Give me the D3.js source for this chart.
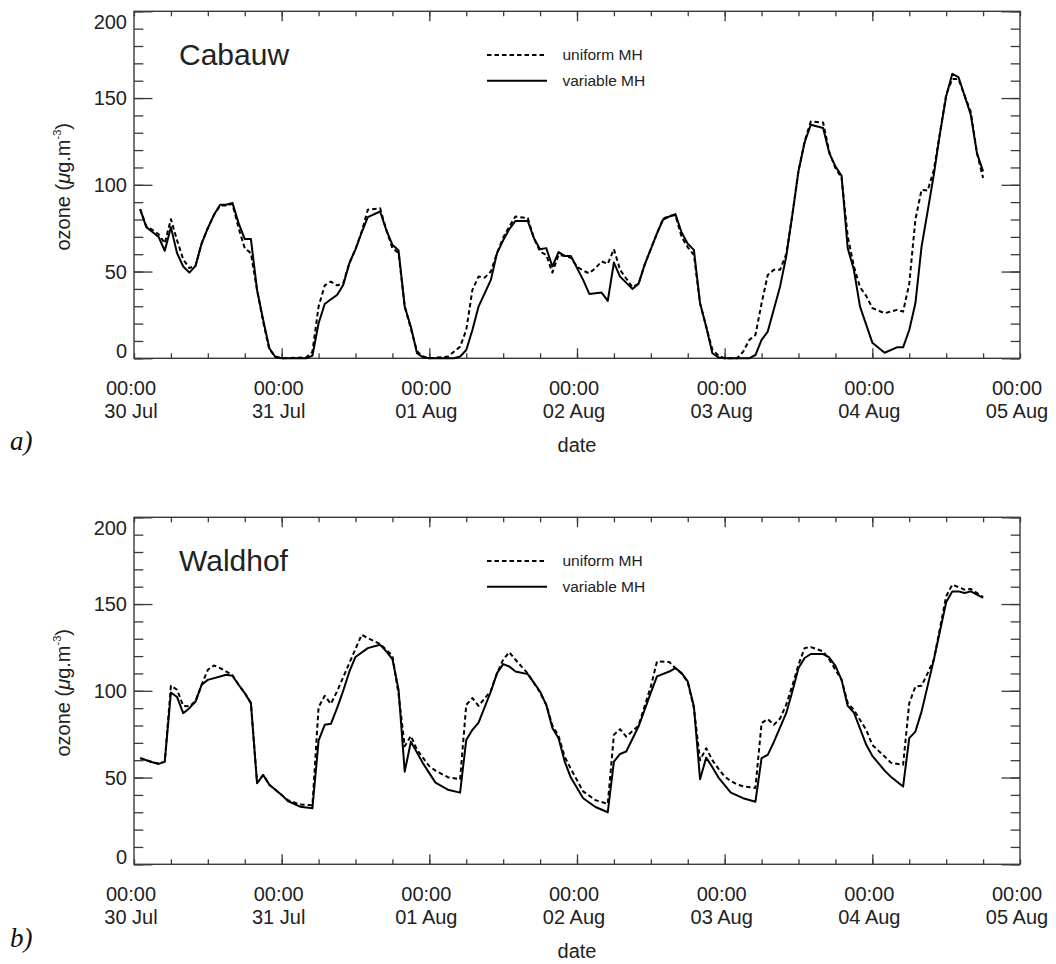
<!DOCTYPE html>
<html><head><meta charset="utf-8">
<script src="https://cdn.jsdelivr.net/npm/d3@7"></script>
<style>body{margin:0;background:#fff}svg{display:block}</style>
</head><body>
<svg id="chart" width="1056" height="964"></svg>
<script>
// ---- data (hours since 30 Jul 00:00, ozone µg/m3) ----
const dayLabels = ["30 Jul","31 Jul","01 Aug","02 Aug","03 Aug","04 Aug","05 Aug"];
const timeLabel = "00:00";
const yTickValues = [0,50,100,150,200];
const legendLabels = ["uniform MH","variable MH"];
const stationNames = ["Cabauw","Waldhof"];
const panelLetters = ["a)","b)"];

const cabauwVariable = [[1,86],[2,75.6],[3,72.8],[4,70],[5,62],[6,75.6],[7,60.6],[8,52.9],[9,49.4],[10,53.3],[11,66.3],[12,75],[13,82.7],[14,88.5],[15,88.5],[16,89.6],[17,77.9],[18,68.7],[19,68.7],[20,39.4],[21,22.1],[22,5.8],[23,0.6],[24,0],[28,0],[29,1.5],[30,20.2],[31,31.3],[32,34],[33,36.5],[34,42.3],[35,54.8],[36,62.8],[37,72.5],[38,81.4],[40,84.6],[41,74],[42,65.4],[43,62.1],[44,29.8],[45,18.2],[46,2.9],[47,0.5],[48,0],[52,0],[53,1],[54,4.8],[55,16.3],[56,29.8],[58,45.2],[59,60.6],[60,68],[61,74.5],[62,79.2],[64,79.2],[65,69.2],[66,62.9],[67,63.5],[68,52.9],[69,61.2],[70,59],[71,59],[73,45.2],[74,37.1],[76,37.9],[77,33.1],[78,55.2],[79,47.1],[81,40],[82,42.9],[83,54],[84,63],[85,72],[86,80],[87,81.7],[88,83.1],[89,72.5],[90,66],[91,62.5],[92,31.7],[93,18.2],[94,2.9],[95,0.5],[96,0],[100,0],[101,1.9],[102,10.6],[103,15.4],[105,41.3],[106,58.6],[107,82.7],[108,108],[109,124.5],[110,134.6],[112,132.7],[113,118.3],[114,110.6],[115,105.2],[116,63.5],[117,51],[118,29.8],[120,9],[122,3.2],[124,6.3],[125,6.3],[126,16.3],[127,31.7],[128,64.4],[129,85],[130,106],[131,129.8],[132,151],[133,164],[134,162.1],[136,140.4],[137,118.3],[138,107.7]];

const cabauwUniform = [[1,86],[2,76],[3,74],[4,71.5],[5,66.3],[6,80.2],[7,68],[8,57],[9,52],[10,53.3],[11,66.3],[12,75],[13,82.7],[14,88],[15,88],[16,89],[17,75],[18,63.5],[19,60.6],[20,39.4],[21,21],[22,5],[23,1],[24,0],[28,0.5],[29,3.8],[30,29.8],[31,42],[32,44.2],[33,42],[34,43.2],[35,54.8],[36,63],[37,73],[38,85.6],[40,86.5],[41,74],[42,63.5],[43,60.6],[44,29.8],[45,17],[46,4],[47,1],[48,0],[51,1],[52,3.8],[53,6.7],[54,16.3],[55,39.4],[56,47.1],[57,46.5],[58,50],[59,60.6],[60,69.5],[61,76],[62,81.7],[64,80.8],[65,69.2],[66,61.5],[67,59.6],[68,49.4],[69,59.6],[70,59],[71,58],[72,52.9],[73,50.5],[74,49],[75,52],[76,55.8],[77,54.4],[78,62.9],[79,51],[81,41],[82,42.9],[83,54],[84,63],[85,72],[86,80.5],[87,82],[88,82.5],[89,70],[90,64],[91,59.6],[92,31.7],[93,18.2],[94,5],[95,1.5],[96,0],[98,0],[99,3.8],[100,10.6],[101,13.4],[102,31.7],[103,48],[104,51],[105,51],[106,60],[107,82.7],[108,108],[109,125],[110,136.5],[112,135.9],[113,119],[114,109.6],[115,104],[116,70.2],[117,53],[118,41],[119,36],[120,29],[122,26],[124,27.9],[125,26.9],[126,43],[127,80],[128,97.1],[129,96.7],[130,108.7],[131,130],[132,152],[133,161],[134,161],[136,142],[137,118.3],[138,103.9]];

const waldhofVariable = [[1,61.2],[2,60],[3,58.8],[4,57.9],[5,59.2],[6,99],[7,96.4],[8,87.1],[9,90],[10,93.8],[11,103.5],[12,106.3],[15,109.2],[16,108.7],[17,103.5],[18,98.7],[19,92.9],[20,46.7],[21,51.5],[22,45.8],[24,40],[25,36.5],[27,33.2],[29,32.3],[30,71.3],[31,80.4],[32,81],[33,90],[34,100],[35,111],[36,119.5],[38,124.6],[40,126.5],[41,122.7],[42,118.3],[43,100.6],[44,53.4],[45,70.7],[47,58],[49,47.1],[51,43],[53,41.3],[54,71.7],[55,77.5],[56,81.7],[58,99.6],[59,110.2],[60,115.4],[61,114],[62,111.1],[64,109.6],[66,99.6],[67,91.9],[68,78.5],[69,72.7],[70,59.2],[71,50],[73,38.1],[75,33],[77,30],[78,59.2],[79,63.6],[80,65],[82,79.4],[84,99],[85,108.3],[87,111.1],[88,113.1],[89,110.2],[90,105.4],[91,90.9],[92,49],[93,61.5],[94,56],[95,50],[97,41.3],[99,38.1],[101,36.1],[102,61.2],[103,63.1],[104,70.5],[106,87.1],[107,99.6],[108,113.1],[109,118.9],[110,121.2],[112,121.2],[113,119.2],[114,114.4],[115,106.3],[116,91.3],[117,87.5],[119,69],[120,62.5],[122,54],[123,50.5],[125,44.8],[126,72.7],[127,76.5],[128,88],[130,118],[132,151],[133,157.3],[134,157.3],[135,156.4],[136,157.3],[138,153.5]];

const waldhofUniform = [[1,61.2],[2,60],[3,58.8],[4,57.9],[5,59.2],[6,102.9],[7,100.6],[8,91.3],[9,91],[10,94],[11,103.5],[12,112.1],[13,114.6],[14,113.1],[16,109],[17,103.5],[18,98.7],[19,92.9],[20,47],[21,51.5],[22,45.8],[24,40],[25,37],[27,34.4],[29,34],[30,90.6],[31,97.1],[32,92.5],[33,99.6],[35,116],[37,132.3],[38,130.4],[40,127],[42,120.2],[43,98],[44,68],[45,74],[46,66],[48,56.5],[49,54],[51,50.2],[53,49],[54,91.9],[55,95.8],[56,91.3],[58,100],[59,110],[60,118],[61,122.3],[62,117.9],[64,110],[66,99],[67,92],[68,80],[69,74],[70,62],[71,55],[73,42],[75,37],[77,34.8],[78,74.6],[79,77.9],[80,73.6],[82,80],[84,102.5],[85,116.9],[87,116.6],[88,113],[89,110],[90,105],[91,90],[92,60],[93,66.9],[94,60],[95,55],[96,50.5],[97,48],[98,46],[99,45],[101,44],[102,81.4],[103,83.7],[104,80.4],[105,84],[106,92],[107,103],[108,115],[109,124.6],[110,125.2],[112,122.7],[113,118],[115,106.3],[116,93],[117,89],[119,77.5],[120,68.8],[122,62.1],[123,58.6],[125,57.3],[126,92.9],[127,102.5],[128,102.9],[129,110.2],[130,118],[132,154.4],[133,161.2],[135,158.3],[136,158.7],[138,154]];

// ---- layout ----
const svg = d3.select("#chart");
svg.append("rect").attr("width",1056).attr("height",964).attr("fill","#fff");
const FONT = "'Liberation Sans', Arial, Helvetica, sans-serif";
const TXT = "#222", AX = "#3a3a3a";
const X0 = 134, X1 = 1020, H = 347;
const base = Date.UTC(2006, 6, 30);
const toDate = h => new Date(base + h * 3600e3);
const x = d3.scaleUtc().domain([toDate(0), toDate(144)]).range([X0, X1]);
const y = d3.scaleLinear().domain([0, 200]).range([H, 0]);
const dayTicks = d3.range(0, 7).map(d => toDate(d * 24));
const sixHourTicks = d3.range(0, 145, 6).map(toDate);
const innerDays = dayTicks.slice(1, 6);
const minorY = d3.range(0, 201, 10);

const panels = [
  {name: stationNames[0], top: 11.3, uni: cabauwUniform, vari: cabauwVariable, letter: panelLetters[0], letterY: 450},
  {name: stationNames[1], top: 517.3, uni: waldhofUniform, vari: waldhofVariable, letter: panelLetters[1], letterY: 947}
];

function styleAxis(g) {
  g.select(".domain").remove();
  g.selectAll(".tick line").attr("stroke", AX).attr("stroke-width", 1.3);
}

panels.forEach(p => {
  const g = svg.append("g").attr("transform", `translate(0,${p.top})`);

  // ticks
  g.append("g").attr("transform", `translate(${X0},0)`).call(d3.axisLeft(y).tickValues(minorY).tickSize(-9.3).tickFormat("")).call(styleAxis);
  g.append("g").attr("transform", `translate(${X0},0)`).call(d3.axisLeft(y).tickValues(yTickValues).tickSize(-18.5).tickFormat("")).call(styleAxis);
  g.append("g").attr("transform", `translate(${X1},0)`).call(d3.axisRight(y).tickValues(minorY).tickSize(-9.3).tickFormat("")).call(styleAxis);
  g.append("g").attr("transform", `translate(${X1},0)`).call(d3.axisRight(y).tickValues(yTickValues).tickSize(-18.5).tickFormat("")).call(styleAxis);
  g.append("g").attr("transform", `translate(0,${H})`).call(d3.axisBottom(x).tickValues(sixHourTicks).tickSize(-5).tickFormat("")).call(styleAxis);
  g.append("g").attr("transform", `translate(0,${H})`).call(d3.axisBottom(x).tickValues(innerDays).tickSize(-10).tickFormat("")).call(styleAxis);
  g.append("g").call(d3.axisTop(x).tickValues(sixHourTicks).tickSize(-5).tickFormat("")).call(styleAxis);
  g.append("g").call(d3.axisTop(x).tickValues(innerDays).tickSize(-10).tickFormat("")).call(styleAxis);

  // frame
  g.append("rect").attr("x", X0).attr("y", 0).attr("width", X1 - X0).attr("height", H)
    .attr("fill", "none").attr("stroke", AX).attr("stroke-width", 1.4);

  // y tick labels
  g.selectAll(".ylab").data(yTickValues).join("text")
    .attr("x", X0 - 7)
    .attr("y", d => y(d) + (d === 200 ? 18 : d === 0 ? 0 : 7))
    .attr("text-anchor", "end").attr("font-family", FONT).attr("font-size", 20).attr("fill", TXT)
    .text(d => d);

  // x tick labels
  const xl = g.selectAll(".xlab").data(dayTicks).join("g").attr("transform", d => `translate(${x(d) - 3},0)`);
  xl.append("text").attr("y", H + 37).attr("text-anchor", "middle").attr("font-family", FONT).attr("font-size", 20).attr("fill", TXT).text(timeLabel);
  xl.append("text").attr("y", H + 60).attr("text-anchor", "middle").attr("font-family", FONT).attr("font-size", 20).attr("fill", TXT).text((d, i) => dayLabels[i]);

  // axis titles
  g.append("text").attr("x", (X0 + X1) / 2 + 0).attr("y", H + 94).attr("text-anchor", "middle")
    .attr("font-family", FONT).attr("font-size", 20).attr("fill", TXT).text("date");
  const yt = g.append("text").attr("transform", `translate(70,${H / 2 + 2}) rotate(-90)`).attr("text-anchor", "middle")
    .attr("font-family", FONT).attr("font-size", 20).attr("fill", TXT);
  yt.append("tspan").text("ozone (");
  yt.append("tspan").attr("font-style", "italic").text("\u03bc");
  yt.append("tspan").text("g.m");
  yt.append("tspan").attr("font-size", 11).attr("dy", -9).text("-3");
  yt.append("tspan").attr("dy", 9).text(")");

  // station name
  g.append("text").attr("x", 179).attr("y", 53.5).attr("font-family", FONT).attr("font-size", 30).attr("fill", TXT).text(p.name);

  // legend
  g.append("line").attr("x1", 487).attr("x2", 547).attr("y1", 43.7).attr("y2", 43.7)
    .attr("stroke", "#000").attr("stroke-width", 2).attr("stroke-dasharray", "4.5,3");
  g.append("line").attr("x1", 487).attr("x2", 547).attr("y1", 69.4).attr("y2", 69.4)
    .attr("stroke", "#000").attr("stroke-width", 2);
  g.append("text").attr("x", 562.5).attr("y", 49.2).attr("font-family", FONT).attr("font-size", 15.5).attr("fill", TXT).text(legendLabels[0]);
  g.append("text").attr("x", 562.5).attr("y", 75).attr("font-family", FONT).attr("font-size", 15.5).attr("fill", TXT).text(legendLabels[1]);

  // series
  const line = d3.line().x(d => x(toDate(d[0]))).y(d => y(d[1]));
  g.append("path").datum(p.uni).attr("d", line).attr("fill", "none").attr("stroke", "#000")
    .attr("stroke-width", 2).attr("stroke-dasharray", "4.5,3").attr("stroke-linejoin", "round");
  g.append("path").datum(p.vari).attr("d", line).attr("fill", "none").attr("stroke", "#000")
    .attr("stroke-width", 2).attr("stroke-linejoin", "round");

  // panel letter
  svg.append("text").attr("x", 10).attr("y", p.letterY).attr("font-family", "'Liberation Serif', 'Times New Roman', serif")
    .attr("font-style", "italic").attr("font-size", 27).attr("fill", "#111").text(p.letter);
});
</script>
</body></html>
